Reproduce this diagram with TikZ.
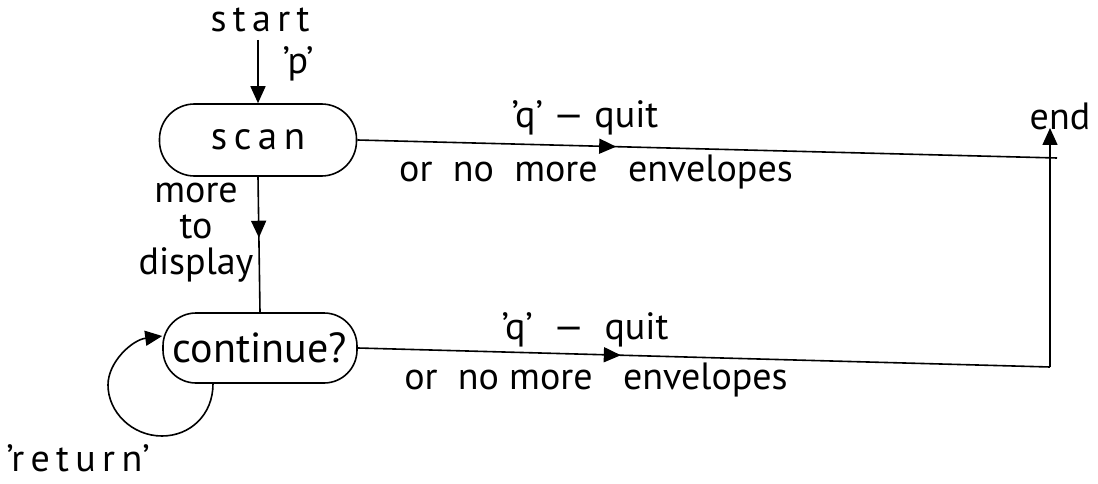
\documentclass[tikz,border=0pt]{standalone}
\usepackage{fontspec}
\setmainfont{PT Sans}
\usetikzlibrary{arrows.meta,decorations.markings}
\tikzset{
  state/.style={draw,line width=1.6pt,rounded corners=35pt,minimum height=72pt,inner sep=4pt,font=\fontsize{39}{44}\selectfont},
  lbl/.style={font=\fontsize{38}{42}\selectfont,inner sep=0pt},
  conn/.style={line width=1.6pt},
  midarrow/.style={postaction={decorate},decoration={markings,mark=at position #1 with {\arrow{Triangle[length=17pt,width=15pt]}}}},
  endarrow/.style={-{Triangle[length=17pt,width=15pt]}}
}
\begin{document}
\begin{tikzpicture}[x=1pt,y=-1pt]
\useasboundingbox (0,0) rectangle (1098,484);
\node[state,minimum width=197pt] (scan) at (258,140) {s\,c\,a\,n};
\node[state,minimum width=194pt,rounded corners=33pt,minimum height=70pt,inner sep=1pt,font=\fontsize{42}{44}\selectfont] (cont) at (260,348) {continue?};
\node[lbl] (start) at (260,20) {s\,t\,a\,r\,t};
\node[lbl] (p) at (298,64) {'p'};
\node[lbl] (end) at (1060,116) {end};
\node[lbl] (q1) at (585,118) {'q' --- quit};
\node[lbl] (o1) at (596,172) {or\ \ no\ \ more\ \ \ envelopes};
\node[lbl] (q2) at (585,330) {'q'\ \ ---\ \ quit};
\node[lbl] (o2) at (596,380) {or\ \ no\ more\ \ \ envelopes};
\node[lbl,align=center] (more) at (196,233) {more\\[-6pt]to\\[-6pt]display};
\node[lbl] (ret) at (78,458) {'r\,e\,t\,u\,r\,n'};
\coordinate (jt) at (1057,158);
\coordinate (jb) at (1050,367);
\coordinate (et) at (1050,128);
\coordinate (st) at (258,40);
\draw[conn,endarrow] (st) -- (scan.north);
\draw[conn,midarrow=0.37] (scan.east) -- (jt);
\draw[conn,midarrow=0.45] (scan.south) -- (cont.north);
\draw[conn,midarrow=0.38] (cont.east) -- (jb);
\draw[conn,endarrow] (jb) -- (et);
\draw[conn,endarrow] ([xshift=-47pt]cont.south) .. controls (213,415) and (190,436) .. (162,436) .. controls (132,436) and (108,412) .. (108,385) .. controls (108,362) and (132,340) .. ([yshift=12pt]cont.west);
\end{tikzpicture}
\end{document}
